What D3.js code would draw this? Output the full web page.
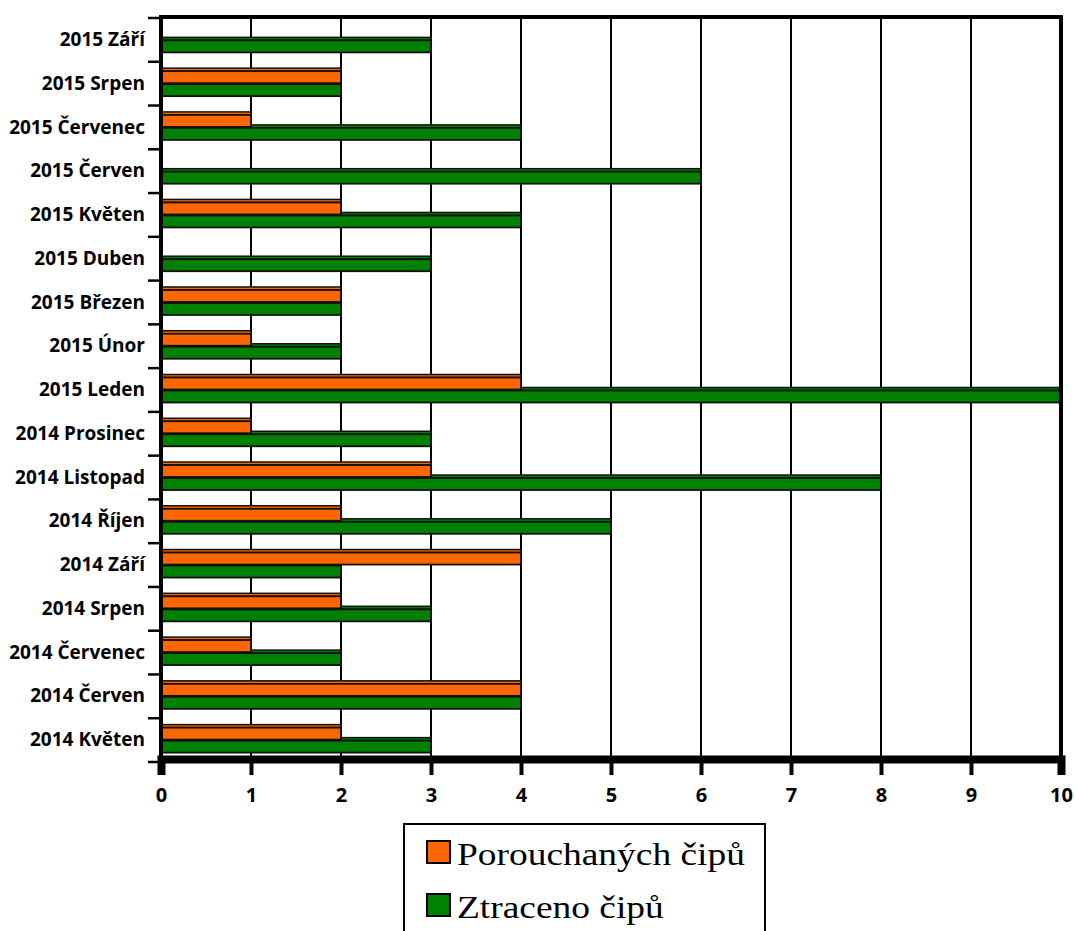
<!DOCTYPE html>
<html>
<head>
<meta charset="utf-8">
<script src="https://cdn.jsdelivr.net/npm/d3@7"></script>
<style>
  body { margin: 0; background: #fff; }
  svg text { fill: #000; }
</style>
</head>
<body>
<div id="chart"></div>
<script>
const categories = ["2015 Září", "2015 Srpen", "2015 Červenec", "2015 Červen", "2015 Květen",
    "2015 Duben", "2015 Březen", "2015 Únor", "2015 Leden", "2014 Prosinec", "2014 Listopad",
    "2014 Říjen", "2014 Září", "2014 Srpen", "2014 Červenec", "2014 Červen", "2014 Květen"];
const broken = [0, 2, 1, 0, 2, 0, 2, 1, 4, 1, 3, 2, 4, 2, 1, 4, 2];
const lost = [3, 2, 4, 6, 4, 3, 2, 2, 10, 3, 8, 5, 2, 3, 2, 4, 3];
const seriesNames = ["Porouchaných čipů", "Ztraceno čipů"];
const xTicks = [0, 1, 2, 3, 4, 5, 6, 7, 8, 9, 10];

const COLORS = { broken: "#FF6600", lost: "#008000" };
const W = 1075, H = 931;
const margin = { left: 161, top: 18, right: 14, bottom: 169 };
const width = W - margin.left - margin.right;
const height = H - margin.top - margin.bottom;

const svg = d3.select("#chart").append("svg")
    .attr("width", W).attr("height", H);
const g = svg.append("g")
    .attr("transform", `translate(${margin.left}, ${margin.top})`);

const x = d3.scaleLinear().domain([0, 10]).range([0, width]);
const y = d3.scaleBand().domain(categories).range([0, height]);

// vertical grid
g.selectAll(".grid").data(xTicks.slice(1, -1)).enter()
    .append("line")
    .attr("x1", d => x(d)).attr("x2", d => x(d))
    .attr("y1", 0).attr("y2", height)
    .attr("stroke", "#000").attr("stroke-width", 2);

// bars, each drawn with a thin "depth" strip above the main face
const MAIN = 12, STRIP = 3;
const rows = categories.map((c, i) => ({ name: c, broken: broken[i], lost: lost[i] }));
const series = [
    { key: "lost", color: COLORS.lost, offset: 0.5 },
    { key: "broken", color: COLORS.broken, offset: -12.5 }
];
series.forEach(s => {
    const bg = g.append("g");
    rows.filter(d => d[s.key] > 0).forEach(d => {
        const top = y(d.name) + y.bandwidth() / 2 + s.offset;
        const w = x(d[s.key]) - x(0);
        bg.append("rect")
            .attr("x", x(0)).attr("y", top - STRIP)
            .attr("width", w).attr("height", STRIP)
            .attr("fill", s.color).attr("stroke", "#111").attr("stroke-width", 1.5);
        bg.append("rect")
            .attr("x", x(0)).attr("y", top)
            .attr("width", w).attr("height", MAIN)
            .attr("fill", s.color).attr("stroke", "#111").attr("stroke-width", 1.8);
    });
});

// frame
g.append("line").attr("x1", -2).attr("x2", width + 2).attr("y1", -1).attr("y2", -1)
    .attr("stroke", "#000").attr("stroke-width", 4);
g.append("line").attr("x1", width).attr("x2", width).attr("y1", -3).attr("y2", height)
    .attr("stroke", "#000").attr("stroke-width", 4);

const labelFont = sel => sel
    .style("font-family", "'Open Sans', sans-serif")
    .style("font-weight", "bold")
    .style("font-size", "19px");

// y axis
const yAxis = g.append("g")
    .call(d3.axisLeft(y).tickSize(0).tickPadding(16));
yAxis.select(".domain").remove();
yAxis.selectAll("text").call(labelFont);
const yEdges = categories.map(c => y(c)).concat([height]);
g.selectAll(".ytick").data(yEdges).enter()
    .append("line")
    .attr("x1", -13).attr("x2", 0)
    .attr("y1", d => d).attr("y2", d => d)
    .attr("stroke", "#000").attr("stroke-width", 2.5);
g.append("line").attr("x1", 0).attr("x2", 0).attr("y1", -3).attr("y2", height + 2)
    .attr("stroke", "#000").attr("stroke-width", 4);

// x axis
const xAxis = g.append("g")
    .attr("transform", `translate(0, ${height - 3})`)
    .call(d3.axisBottom(x).tickValues(xTicks).tickSize(16).tickPadding(13));
xAxis.select(".domain").attr("stroke-width", 8);
xAxis.selectAll(".tick line").attr("stroke-width", 4);
xAxis.selectAll("text").call(labelFont).style("font-size", "20px");

// legend (text is drawn a little wider, as in the original)
const legend = svg.append("g").attr("transform", "translate(404, 824)");
legend.append("rect").attr("width", 361).attr("height", 120)
    .attr("fill", "#fff").attr("stroke", "#000").attr("stroke-width", 2);
[COLORS.broken, COLORS.lost].forEach((c, i) => {
    const ly = 41 + i * 53;
    legend.append("rect")
        .attr("x", 23).attr("y", ly - 24).attr("width", 23).attr("height", 22)
        .attr("fill", c).attr("stroke", "#000").attr("stroke-width", 2);
    legend.append("text")
        .attr("transform", `translate(53, ${ly}) scale(1.17, 1)`)
        .style("font-family", "'Liberation Serif', serif")
        .style("font-size", "32px")
        .text(seriesNames[i]);
});
</script>
</body>
</html>
